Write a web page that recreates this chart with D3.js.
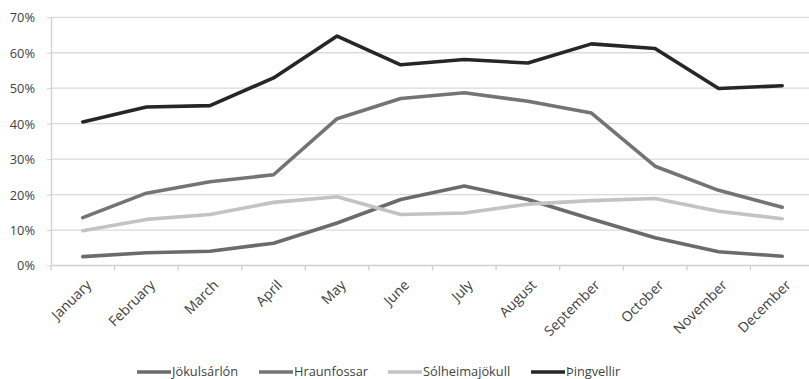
<!DOCTYPE html>
<html>
<head>
<meta charset="utf-8">
<script src="https://cdn.jsdelivr.net/npm/d3@7"></script>
<style>
  html, body { margin: 0; padding: 0; background: #fff; }
  svg { display: block; }
  text { font-family: "Open Sans", "Noto Sans", sans-serif; fill: #3f3f3f; }
</style>
</head>
<body>
<svg id="chart" width="809" height="379"></svg>
<script>
// Monthly share of visitors at each site
const months = ["January", "February", "March", "April", "May", "June",
                "July", "August", "September", "October", "November", "December"];
const jokulsarlon    = [2.5, 3.6, 4.0, 6.3, 12.0, 18.6, 22.4, 18.6, 13.1, 7.8, 3.9, 2.6];
const hraunfossar    = [13.5, 20.4, 23.6, 25.6, 41.4, 47.1, 48.7, 46.3, 43.0, 28.0, 21.2, 16.4];
const solheimajokull = [9.8, 13.0, 14.4, 17.8, 19.4, 14.4, 14.8, 17.3, 18.3, 18.9, 15.3, 13.2];
const thingvellir    = [40.5, 44.7, 45.1, 52.9, 64.7, 56.6, 58.1, 57.1, 62.5, 61.2, 49.9, 50.7];
const seriesNames    = ["Jökulsárlón", "Hraunfossar", "Sólheimajökull", "Þingvellir"];
const yTicks         = [0, 10, 20, 30, 40, 50, 60, 70];

const series = [
  { name: seriesNames[0], values: jokulsarlon,    color: "#6b6b6b" },
  { name: seriesNames[1], values: hraunfossar,    color: "#747474" },
  { name: seriesNames[2], values: solheimajokull, color: "#c3c3c3" },
  { name: seriesNames[3], values: thingvellir,    color: "#262626" }
];

const svg = d3.select("#chart");
const plot = { left: 51, right: 814, top: 17.3, bottom: 265.5 };

const x = d3.scaleBand().domain(months).range([plot.left, plot.right]);
const y = d3.scaleLinear().domain([0, 70]).range([plot.bottom, plot.top]);

// Horizontal gridlines
svg.append("g")
  .selectAll("line")
  .data(yTicks.filter(d => d > 0))
  .join("line")
  .attr("x1", plot.left).attr("x2", 809)
  .attr("y1", d => y(d)).attr("y2", d => y(d))
  .attr("stroke", "#dadada").attr("stroke-width", 1.3);

// Y axis
const yAxis = svg.append("g")
  .attr("transform", `translate(${plot.left},0)`)
  .call(d3.axisLeft(y).tickValues(yTicks).tickFormat(d => d + "%").tickSize(4).tickSizeOuter(0));
yAxis.select(".domain").attr("stroke", "#d0d0d0").attr("stroke-width", 1.3);
yAxis.selectAll(".tick line").attr("stroke", "#d0d0d0").attr("x1", -4).attr("x2", 0);
yAxis.selectAll(".tick text")
  .attr("x", -16).attr("dy", "0.35em")
  .style("font-size", "12.8px").style("fill", "#3f3f3f");

// X axis with ticks on band edges
const xAxis = svg.append("g")
  .attr("transform", `translate(0,${plot.bottom})`);
xAxis.append("line")
  .attr("x1", plot.left).attr("x2", 809)
  .attr("stroke", "#d0d0d0").attr("stroke-width", 1.3);
xAxis.selectAll("line.tk")
  .data(months)
  .join("line")
  .attr("class", "tk")
  .attr("x1", d => x(d)).attr("x2", d => x(d))
  .attr("y1", 0).attr("y2", 5)
  .attr("stroke", "#d0d0d0").attr("stroke-width", 1.3);
xAxis.selectAll("text")
  .data(months)
  .join("text")
  .attr("transform", d => `translate(${x(d) + x.bandwidth() / 2 + 6},${17}) rotate(-45)`)
  .attr("text-anchor", "end")
  .attr("dy", "0.35em")
  .style("font-size", "14px")
  .text(d => d);

// Series lines
const line = d3.line()
  .x((d, i) => x(months[i]) + x.bandwidth() / 2)
  .y(d => y(d));

svg.append("g")
  .selectAll("path")
  .data(series)
  .join("path")
  .attr("d", s => line(s.values))
  .attr("fill", "none")
  .attr("stroke", s => s.color)
  .attr("stroke-width", 3.6)
  .attr("stroke-linejoin", "round")
  .attr("stroke-linecap", "round");

// Legend
const legendX = [137, 259, 388, 531];
const legend = svg.append("g");
const item = legend.selectAll("g")
  .data(series)
  .join("g")
  .attr("transform", (d, i) => `translate(${legendX[i]},372)`);
item.append("line")
  .attr("x1", 0).attr("x2", 34)
  .attr("stroke", d => d.color)
  .attr("stroke-width", 3.6);
item.append("text")
  .attr("x", 35).attr("dy", "0.32em")
  .style("font-size", "12.8px")
  .text(d => d.name);
</script>
</body>
</html>
